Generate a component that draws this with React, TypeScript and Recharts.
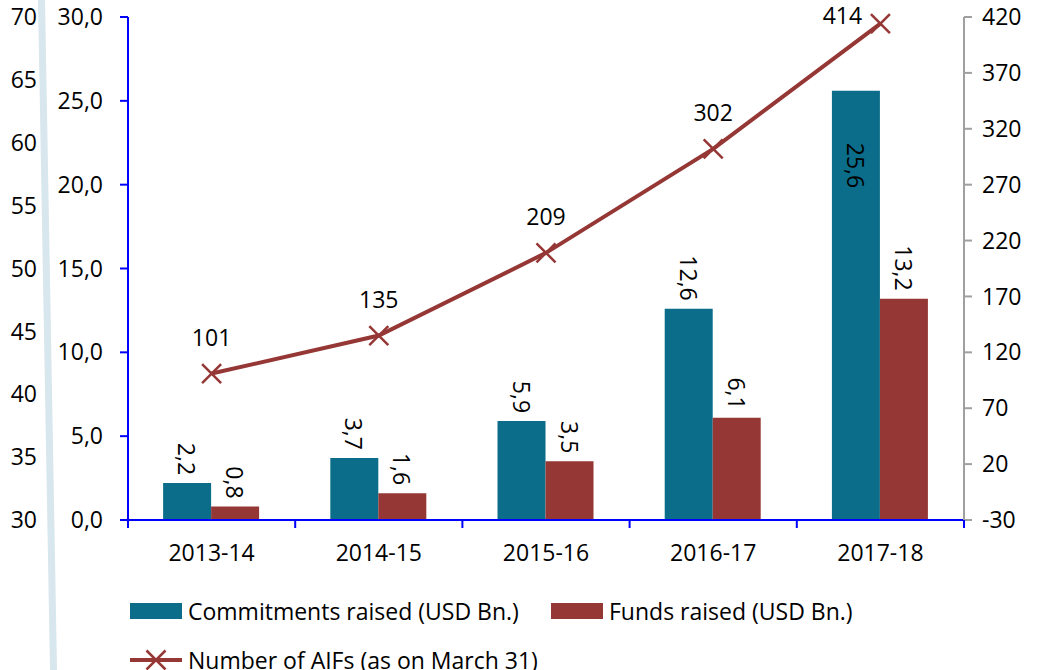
import {
  Bar,
  ComposedChart,
  LabelList,
  Legend,
  Line,
  XAxis,
  YAxis,
} from "recharts";

const TEAL = "#0b6d8a";
const DARK_RED = "#953735";
const BLUE_AXIS = "#0000ff";
const GRAY_AXIS = "#a0a0a0";
const FONT = "'Open Sans', 'Noto Sans', sans-serif";
const FONT_SIZE = 23;

const categories = ["2013-14", "2014-15", "2015-16", "2016-17", "2017-18"];
const commitments = [2.2, 3.7, 5.9, 12.6, 25.6];
const funds = [0.8, 1.6, 3.5, 6.1, 13.2];
const aifCount = [101, 135, 209, 302, 414];

const leftTicks = [0, 5, 10, 15, 20, 25, 30];
const rightTicks = [-30, 20, 70, 120, 170, 220, 270, 320, 370, 420];
// stray axis from the neighbouring chart, cut off at the left edge
const strayTicks = [30, 35, 40, 45, 50, 55, 60, 65, 70];

const legendLabels = {
  commitments: "Commitments raised (USD Bn.)",
  funds: "Funds raised (USD Bn.)",
  aifs: "Number of AIFs (as on March 31)",
};

const data = categories.map((year, i) => ({
  year,
  commitments: commitments[i],
  funds: funds[i],
  aifs: aifCount[i],
}));

const HALF_BAND = (964 - 128) / 5 / 2;

const comma = (v: number) => v.toFixed(1).replace(".", ",");

function XTick(props: any) {
  const { x, y, payload, index } = props;
  const half = payload?.offset || HALF_BAND;
  return (
    <g>
      <line x1={x - half} x2={x - half} y1={y - 25} y2={y - 17} stroke={BLUE_AXIS} strokeWidth={2} />
      {index === categories.length - 1 && (
        <line x1={x + half} x2={x + half} y1={y - 25} y2={y - 17} stroke={BLUE_AXIS} strokeWidth={2} />
      )}
      <text x={x} y={y} dy="0.71em" textAnchor="middle" fill="#000" fontSize={FONT_SIZE} fontFamily={FONT}>
        {payload.value}
      </text>
    </g>
  );
}

function BarValue(props: any) {
  const { x, y, width, value } = props;
  const cx = x + width / 2;
  const inside = value > 20;
  const ty = inside ? y + 52 : y - 8;
  return (
    <text
      x={cx}
      y={ty}
      transform={`rotate(90, ${cx}, ${ty})`}
      textAnchor={inside ? "start" : "end"}
      dominantBaseline="central"
      fill="#000"
      fontSize={FONT_SIZE}
      fontFamily={FONT}
    >
      {comma(value)}
    </text>
  );
}

function LineValue(props: any) {
  const { x, y, value } = props;
  let lx = x;
  let ly = y - 28;
  if (ly < 30) {
    ly = 24;
    lx = x - 38;
  }
  return (
    <text x={lx} y={ly} textAnchor="middle" fill="#000" fontSize={FONT_SIZE} fontFamily={FONT}>
      {value}
    </text>
  );
}

function CrossDot(props: any) {
  const { cx, cy } = props;
  const r = 9.5;
  return (
    <path
      d={`M${cx - r},${cy - r}L${cx + r},${cy + r}M${cx + r},${cy - r}L${cx - r},${cy + r}`}
      stroke={DARK_RED}
      strokeWidth={2.5}
      fill="none"
    />
  );
}

function ChartLegend() {
  const text = { fontSize: FONT_SIZE, fontFamily: FONT, color: "#000", lineHeight: "26px" };
  return (
    <div style={{ position: "relative", width: 1038, height: 90 }}>
      <div style={{ position: "absolute", left: 130, top: 18, display: "flex", alignItems: "center" }}>
        <span style={{ width: 52, height: 16, background: TEAL, marginRight: 6 }} />
        <span style={text}>{legendLabels.commitments}</span>
      </div>
      <div style={{ position: "absolute", left: 551, top: 18, display: "flex", alignItems: "center" }}>
        <span style={{ width: 52, height: 16, background: DARK_RED, marginRight: 6 }} />
        <span style={text}>{legendLabels.funds}</span>
      </div>
      <div style={{ position: "absolute", left: 130, top: 67, display: "flex", alignItems: "center" }}>
        <svg width={52} height={22} style={{ marginRight: 6 }}>
          <line x1={0} x2={52} y1={11} y2={11} stroke={DARK_RED} strokeWidth={4} />
          <path d="M16.5,1.5L35.5,20.5M35.5,1.5L16.5,20.5" stroke={DARK_RED} strokeWidth={2.5} />
        </svg>
        <span style={text}>{legendLabels.aifs}</span>
      </div>
    </div>
  );
}

export default function App() {
  return (
    <div style={{ position: "absolute", left: 0, top: 0, width: 1038, height: 670, background: "#fff", overflow: "hidden" }}>
      <ComposedChart
        width={1038}
        height={670}
        data={data}
        margin={{ top: 17, right: 0, left: 0, bottom: 0 }}
        barCategoryGap="21%"
        barGap={0}
        style={{ fontFamily: FONT }}
      >
        <XAxis
          dataKey="year"
          xAxisId="x"
          height={60}
          stroke={BLUE_AXIS}
          strokeWidth={2}
          tickLine={false}
          tickSize={0}
          tickMargin={25}
          tick={<XTick />}
          interval={0}
        />
        <YAxis
          yAxisId="primary"
          orientation="left"
          width={75}
          domain={[0, 30]}
          ticks={leftTicks}
          tickFormatter={comma}
          stroke={BLUE_AXIS}
          strokeWidth={2}
          tickSize={8}
          tickMargin={17}
          tick={{ fill: "#000", fontSize: FONT_SIZE, fontFamily: FONT }}
          interval={0}
        />
        <YAxis
          yAxisId="stray"
          orientation="left"
          width={53}
          domain={[30, 70]}
          ticks={strayTicks}
          allowDataOverflow
          axisLine={false}
          tickLine={false}
          tickSize={0}
          tickMargin={16}
          tick={{ fill: "#000", fontSize: FONT_SIZE, fontFamily: FONT }}
          interval={0}
        />
        <YAxis
          yAxisId="right"
          orientation="right"
          width={74}
          domain={[-30, 420]}
          ticks={rightTicks}
          stroke={GRAY_AXIS}
          strokeWidth={2}
          tickSize={8}
          tickMargin={10}
          tick={{ fill: "#000", fontSize: FONT_SIZE, fontFamily: FONT, textAnchor: "start" }}
          interval={0}
        />
        <Legend verticalAlign="bottom" height={90} content={<ChartLegend />} />
        <Bar dataKey="commitments" xAxisId="x" yAxisId="primary" fill={TEAL} isAnimationActive={false}>
          <LabelList dataKey="commitments" content={<BarValue />} />
        </Bar>
        <Bar dataKey="funds" xAxisId="x" yAxisId="primary" fill={DARK_RED} isAnimationActive={false}>
          <LabelList dataKey="funds" content={<BarValue />} />
        </Bar>
        <Line
          dataKey="aifs"
          xAxisId="x"
          yAxisId="right"
          stroke={DARK_RED}
          strokeWidth={4}
          dot={<CrossDot />}
          activeDot={false}
          isAnimationActive={false}
        >
          <LabelList dataKey="aifs" content={<LineValue />} />
        </Line>
      </ComposedChart>
      <svg
        width={1038}
        height={670}
        style={{ position: "absolute", left: 0, top: 0, pointerEvents: "none" }}
      >
        <polygon points="38,0 45,0 57,670 50,670" fill="#d8e6ed" />
      </svg>
    </div>
  );
}
